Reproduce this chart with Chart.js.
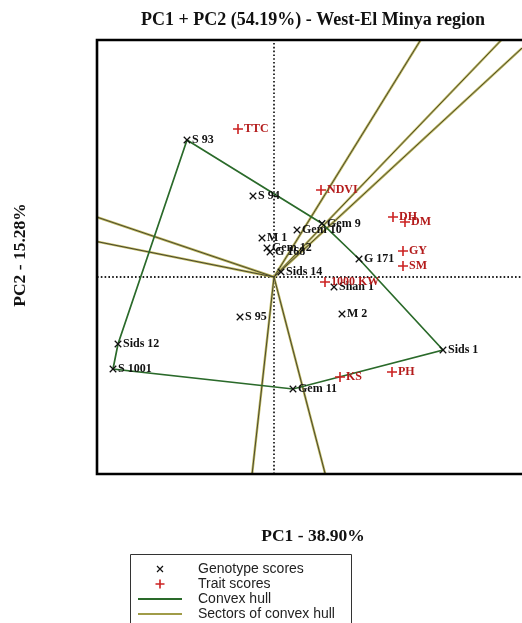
<!DOCTYPE html>
<html>
<head>
<meta charset="utf-8">
<script src="https://cdn.jsdelivr.net/npm/chart.js@4/dist/chart.umd.min.js"></script>
<style>
  html, body { margin: 0; padding: 0; background: #fff; overflow: hidden; }
  canvas { display: block; }
</style>
</head>
<body>
<canvas id="biplot" width="522" height="623"></canvas>
<script>
// GGE biplot scores, West-El Minya region
const genotypeNames = ['S 93', 'S 94', 'Gem 9', 'Gem 10', 'M 1', 'Gem 12', 'G 168', 'Sids 14',
                       'G 171', 'Shan 1', 'M 2', 'Sids 1', 'Gem 11', 'S 95', 'Sids 12', 'S 1001'];
const genotypePC1 = [-1.74, -0.42, 0.96, 0.46, -0.24, -0.14, -0.08, 0.14,
                      1.70, 1.20, 1.36, 3.38, 0.38, -0.68, -3.12, -3.22];
const genotypePC2 = [2.74, 1.62, 1.07, 0.94, 0.78, 0.58, 0.50, 0.10,
                      0.36, -0.20, -0.74, -1.46, -2.24, -0.80, -1.34, -1.84];

const traitNames = ['TTC', 'NDVI', 'DH', 'DM', 'GY', 'SM', '1000 KW', 'KS', 'PH'];
const traitPC1 = [-0.72, 0.94, 2.38, 2.62, 2.58, 2.58, 1.02, 1.32, 2.36];
const traitPC2 = [2.96, 1.74, 1.20, 1.10, 0.52, 0.22, -0.10, -2.00, -1.90];

// vertices of the convex hull, in drawing order
const hullOrder = ['S 93', 'Gem 9', 'G 171', 'Sids 1', 'Gem 11', 'S 1001', 'Sids 12'];

const pc1Range = [-3.54, 4.96];
const pc2Range = [-3.94, 4.74];

const titleText = 'PC1 + PC2 (54.19%) - West-El Minya region';
const xTitleText = 'PC1 - 38.90%';
const yTitleText = 'PC2 - 15.28%';
const legendItems = ['Genotype scores', 'Trait scores', 'Convex hull', 'Sectors of convex hull'];

const GREEN = '#2a6a2a';
const OLIVE = '#bdb75c';
const RED = '#cc2222';
const RED_TEXT = '#b41c1c';

const genotypePts = genotypeNames.map((n, i) => ({ x: genotypePC1[i], y: genotypePC2[i], label: n }));
const traitPts = traitNames.map((n, i) => ({ x: traitPC1[i], y: traitPC2[i], label: n }));
const hullPts = hullOrder.map(n => {
  const i = genotypeNames.indexOf(n);
  return { x: genotypePC1[i], y: genotypePC2[i] };
});

// rays from the origin perpendicular to each hull edge, run out to the plot edge
function sectorRays() {
  const rays = [];
  for (let i = 0; i < hullPts.length; i++) {
    const a = hullPts[i], b = hullPts[(i + 1) % hullPts.length];
    const dx = b.x - a.x, dy = b.y - a.y;
    const t = -(a.x * dx + a.y * dy) / (dx * dx + dy * dy);
    const px = a.x + t * dx, py = a.y + t * dy;
    const sx = px > 0 ? pc1Range[1] / px : pc1Range[0] / px;
    const sy = py > 0 ? pc2Range[1] / py : pc2Range[0] / py;
    const s = Math.min(sx, sy);
    rays.push([{ x: 0, y: 0 }, { x: px * s, y: py * s }]);
  }
  return rays;
}

const datasets = [
  {
    label: 'Genotype scores', data: genotypePts, pointStyle: 'crossRot',
    pointRadius: 4.6, pointBorderWidth: 1.3, borderColor: '#111', backgroundColor: '#111',
    showLine: false, order: 0
  },
  {
    label: 'Trait scores', data: traitPts, pointStyle: 'cross',
    pointRadius: 5, pointBorderWidth: 1.6, borderColor: RED, backgroundColor: RED,
    showLine: false, order: 0
  },
  {
    label: 'Convex hull', data: hullPts.concat([hullPts[0]]), showLine: true,
    borderColor: GREEN, borderWidth: 1.7, pointRadius: 0, order: 1
  }
];

sectorRays().forEach(r => {
  datasets.push({ data: r, showLine: true, borderColor: OLIVE, borderWidth: 2.4, pointRadius: 0, order: 3 });
  datasets.push({ data: r, showLine: true, borderColor: '#3e3c2a', borderWidth: 0.9, pointRadius: 0, order: 2 });
});

// dotted reference lines through the origin
datasets.push({ data: [{ x: pc1Range[0], y: 0 }, { x: pc1Range[1], y: 0 }], showLine: true,
  borderColor: '#222', borderWidth: 1.8, borderDash: [1.6, 2.2], pointRadius: 0, order: 4 });
datasets.push({ data: [{ x: 0, y: pc2Range[0] }, { x: 0, y: pc2Range[1] }], showLine: true,
  borderColor: '#222', borderWidth: 1.8, borderDash: [1.6, 2.2], pointRadius: 0, order: 4 });

const pointLabels = {
  id: 'pointLabels',
  afterDatasetsDraw(chart) {
    const { ctx, scales: { x, y } } = chart;
    ctx.save();
    ctx.textBaseline = 'middle';
    ctx.textAlign = 'left';
    ctx.font = 'bold 12px "Liberation Serif", "DejaVu Serif", serif';
    ctx.fillStyle = '#111';
    genotypePts.forEach(p => ctx.fillText(p.label, x.getPixelForValue(p.x) + 5, y.getPixelForValue(p.y)));
    ctx.fillStyle = RED_TEXT;
    traitPts.forEach(p => ctx.fillText(p.label, x.getPixelForValue(p.x) + 6, y.getPixelForValue(p.y)));
    ctx.restore();
  }
};

const frameAndText = {
  id: 'frameAndText',
  afterDraw(chart) {
    const { ctx, chartArea: a } = chart;
    ctx.save();
    // frame
    ctx.strokeStyle = '#000';
    ctx.lineWidth = 2.6;
    ctx.beginPath();
    ctx.moveTo(chart.width, a.top);
    ctx.lineTo(a.left, a.top);
    ctx.lineTo(a.left, a.bottom);
    ctx.lineTo(chart.width, a.bottom);
    ctx.stroke();

    // titles
    ctx.fillStyle = '#111';
    ctx.textAlign = 'center';
    ctx.textBaseline = 'middle';
    ctx.font = 'bold 18px "Liberation Serif", "DejaVu Serif", serif';
    ctx.fillText(titleText, 313, 20);
    ctx.font = 'bold 17.5px "Liberation Serif", "DejaVu Serif", serif';
    ctx.fillText(xTitleText, 313, 536);
    ctx.save();
    ctx.translate(20, 255);
    ctx.rotate(-Math.PI / 2);
    ctx.fillText(yTitleText, 0, 0);
    ctx.restore();

    // legend box
    const bx = 130, by = 554, bw = 221;
    ctx.strokeStyle = '#333';
    ctx.lineWidth = 1;
    ctx.beginPath();
    ctx.moveTo(bx + 0.5, chart.height + 2);
    ctx.lineTo(bx + 0.5, by + 0.5);
    ctx.lineTo(bx + bw + 0.5, by + 0.5);
    ctx.lineTo(bx + bw + 0.5, chart.height + 2);
    ctx.stroke();

    const rows = [569, 584, 599, 614];
    const sx = 160;
    // genotype symbol
    ctx.strokeStyle = '#111';
    ctx.lineWidth = 1.2;
    ctx.beginPath();
    ctx.moveTo(sx - 3, rows[0] - 3); ctx.lineTo(sx + 3, rows[0] + 3);
    ctx.moveTo(sx + 3, rows[0] - 3); ctx.lineTo(sx - 3, rows[0] + 3);
    ctx.stroke();
    // trait symbol
    ctx.strokeStyle = RED;
    ctx.lineWidth = 1.6;
    ctx.beginPath();
    ctx.moveTo(sx - 4.5, rows[1]); ctx.lineTo(sx + 4.5, rows[1]);
    ctx.moveTo(sx, rows[1] - 4.5); ctx.lineTo(sx, rows[1] + 4.5);
    ctx.stroke();
    // hull line
    ctx.strokeStyle = GREEN;
    ctx.lineWidth = 2;
    ctx.beginPath(); ctx.moveTo(138, rows[2]); ctx.lineTo(182, rows[2]); ctx.stroke();
    // sector line
    ctx.strokeStyle = '#a09c48';
    ctx.beginPath(); ctx.moveTo(138, rows[3]); ctx.lineTo(182, rows[3]); ctx.stroke();

    ctx.fillStyle = '#222';
    ctx.textAlign = 'left';
    ctx.font = '14px "Liberation Sans", Arial, sans-serif';
    legendItems.forEach((t, i) => ctx.fillText(t, 198, rows[i]));
    ctx.restore();
  }
};

new Chart(document.getElementById('biplot'), {
  type: 'scatter',
  data: { datasets },
  options: {
    responsive: false,
    animation: false,
    events: [],
    layout: { autoPadding: false, padding: { left: 97, top: 40, right: 0, bottom: 149 } },
    scales: {
      x: { type: 'linear', display: false, min: pc1Range[0], max: pc1Range[1] },
      y: { type: 'linear', display: false, min: pc2Range[0], max: pc2Range[1] }
    },
    plugins: { legend: { display: false }, tooltip: { enabled: false }, title: { display: false } }
  },
  plugins: [pointLabels, frameAndText]
});
</script>
</body>
</html>
